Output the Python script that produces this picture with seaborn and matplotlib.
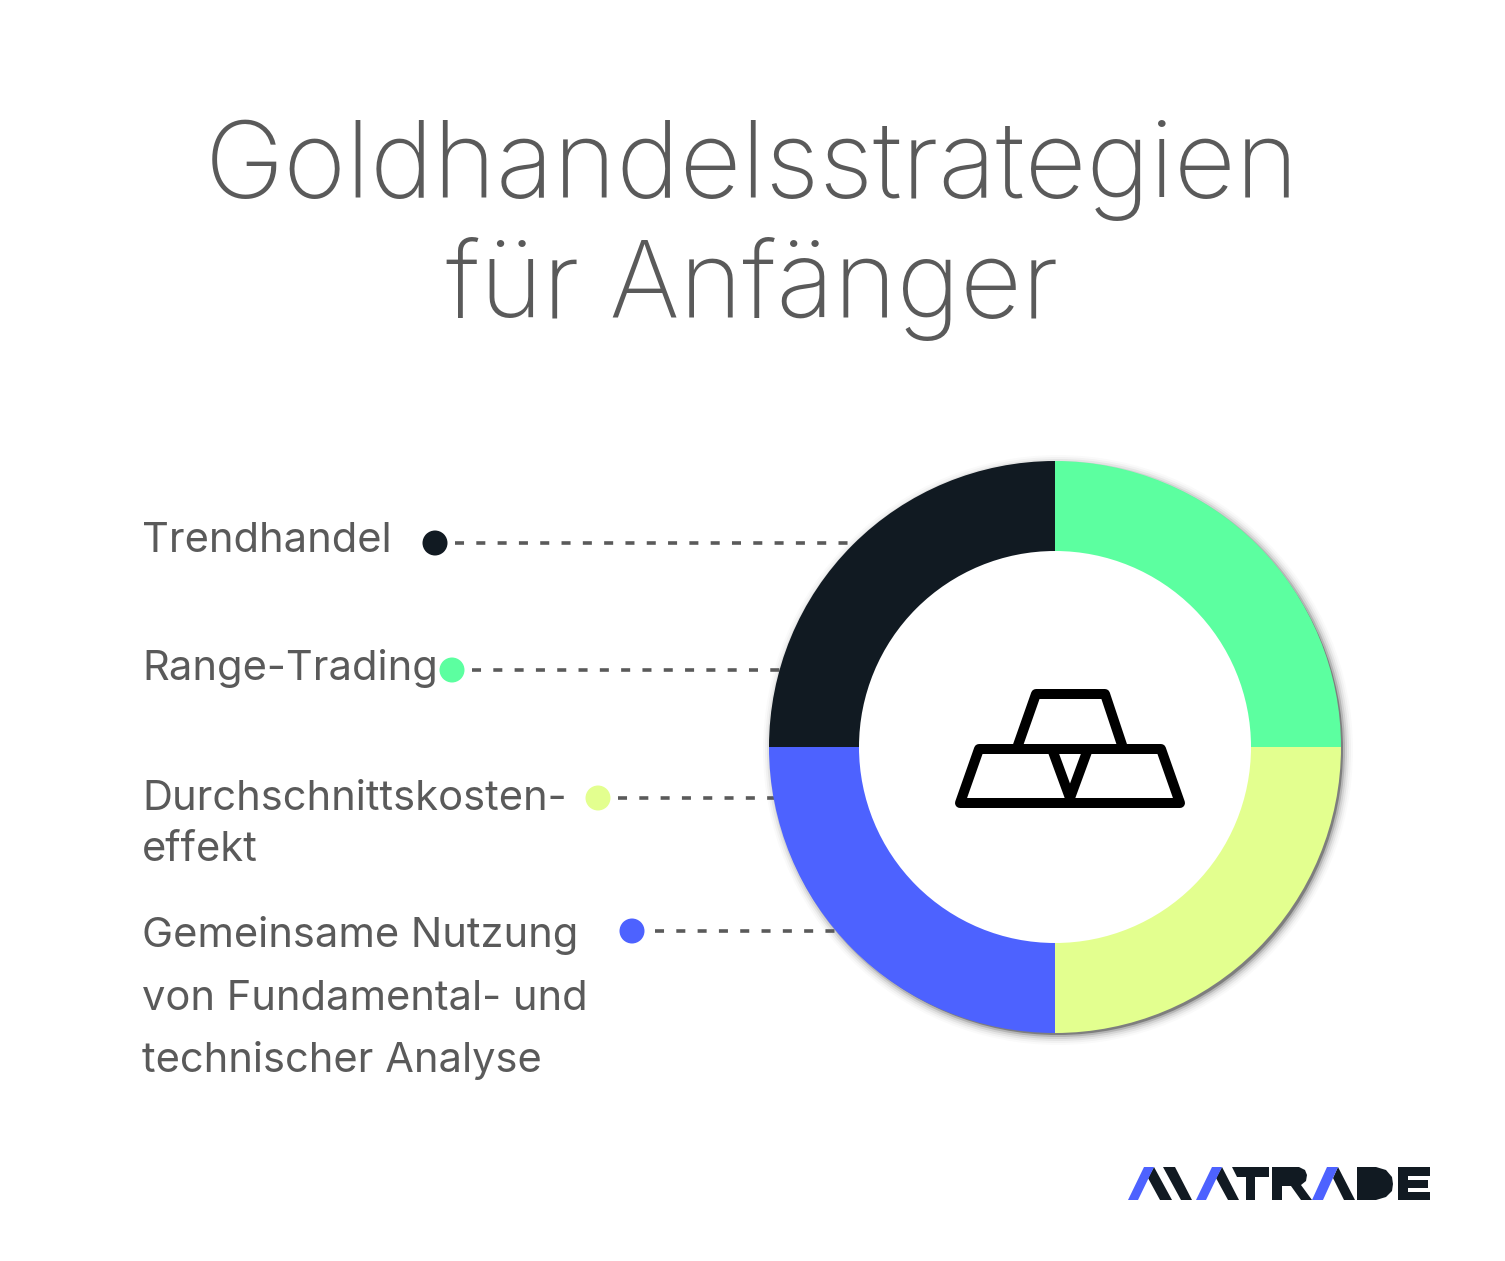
import matplotlib
matplotlib.use("Agg")
import matplotlib.pyplot as plt
from matplotlib.patches import Circle, Polygon, PathPatch
from matplotlib.path import Path
import pandas as pd
import seaborn as sns

# data
categories = ["Trendhandel", "Range-Trading", "Durchschnittskosten-\neffekt",
              "Gemeinsame Nutzung\nvon Fundamental- und\ntechnischer Analyse"]
shares = [25, 25, 25, 25]
colors = ["#111a22", "#5cffa0", "#e3ff8f", "#4d62ff"]
title_lines = ["Goldhandelsstrategien", "für Anfänger"]

# where the legend rows sit (pixels of the 1505x1261 canvas)
dot_x = [435, 452, 598, 632]
dot_y = [543, 670, 798, 931]
line_start = [455, 472, 618, 655]
line_end = [860, 780, 780, 840]
label_y = [552, 680, 810, 947]
label_step = [0, 0, 51, 62.5]

TEXT = "#5a5a5a"
W, H = 1505, 1261
CX, CY, R_OUT, R_IN = 1055, 747, 286, 196

sns.set_theme(style="white")
plt.rcParams["font.family"] = ["Inter", "DejaVu Sans"]

fig = plt.figure(figsize=(W / 100, H / 100), dpi=100, facecolor="white")

# canvas in pixels, under the ring
bg = fig.add_axes([0, 0, 1, 1])
bg.set_xlim(0, W)
bg.set_ylim(H, 0)
bg.axis("off")

# soft shadow to the lower right of the ring
for grow, alpha in [(10, 0.02), (8, 0.03), (6, 0.05), (4, 0.08), (2, 0.14), (0, 0.30)]:
    bg.add_patch(Circle((CX + 3, CY + 3), R_OUT + grow - 1, color="black", alpha=alpha, lw=0))
bg.add_patch(Circle((CX, CY), R_IN + 20, color="white", lw=0))

# title
for line, y in zip(title_lines, [198, 318]):
    bg.text(752, y, line, ha="center", va="baseline", fontsize=77, color=TEXT, fontweight="light")

# labels
for cat, y, step in zip(categories, label_y, label_step):
    for i, part in enumerate(cat.split("\n")):
        bg.text(142, y + i * step, part, ha="left", va="baseline", fontsize=30, color=TEXT)

# leader lines and dots
for x0, x1, y in zip(line_start, line_end, dot_y):
    bg.plot([x0, x1], [y, y], color=TEXT, lw=2.6, linestyle=(0, (2.5, 3.4)), dash_capstyle="butt")
dots = pd.DataFrame({"x": dot_x, "y": dot_y, "cat": categories})
sns.scatterplot(data=dots, x="x", y="y", hue="cat", palette=colors, s=324, linewidth=0,
                legend=False, ax=bg, zorder=3)
bg.set_xlim(0, W)
bg.set_ylim(H, 0)

# gold bars icon
icon = dict(fill=False, edgecolor="black", lw=7.2, joinstyle="round", capstyle="round")
bg.add_patch(Polygon([(1017, 748), (1036, 694), (1105, 694), (1123, 748)], closed=False, **icon))
bg.add_patch(Polygon([(960, 803), (979, 749), (1161, 749), (1180, 803)], closed=True, **icon))
bg.add_patch(Polygon([(1052, 749), (1070, 798), (1088, 749)], closed=False, **icon))

# logo
BLUE, DARK = colors[3], colors[0]
logo_dark = [
    [(1154, 1167), (1172, 1200), (1160, 1200), (1148, 1178)],
    [(1163, 1167), (1175, 1167), (1192, 1200), (1181, 1200)],
    [(1222, 1167), (1239, 1200), (1228, 1200), (1216, 1178)],
    [(1232, 1167), (1269, 1167), (1269, 1177), (1255, 1177), (1255, 1200), (1246, 1200),
     (1246, 1177), (1237, 1177)],
    [(1338, 1167), (1355, 1200), (1344, 1200), (1333, 1178)],
]
logo_blue = [
    [(1128, 1200), (1138, 1200), (1154, 1167), (1144, 1167)],
    [(1196, 1200), (1206, 1200), (1222, 1167), (1212, 1167)],
    [(1312, 1200), (1323, 1200), (1338, 1167), (1327, 1167)],
]
for pts in logo_dark:
    bg.add_patch(Polygon(pts, closed=True, color=DARK, lw=0))
for pts in logo_blue:
    bg.add_patch(Polygon(pts, closed=True, color=BLUE, lw=0))

def compound(outer, inner):
    verts = outer + [outer[0]] + inner + [inner[0]]
    codes = ([Path.MOVETO] + [Path.LINETO] * (len(outer) - 1) + [Path.CLOSEPOLY]
             + [Path.MOVETO] + [Path.LINETO] * (len(inner) - 1) + [Path.CLOSEPOLY])
    return PathPatch(Path(verts, codes), color=DARK, lw=0)

# R
bg.add_patch(compound(
    [(1272, 1167), (1299, 1167), (1305, 1170), (1307, 1175), (1306, 1181), (1301, 1185),
     (1312, 1200), (1301, 1200), (1291, 1186), (1282, 1186), (1282, 1200), (1272, 1200)],
    [(1282, 1176), (1296, 1176), (1297, 1178), (1296, 1179), (1282, 1179)]))
# D
bg.add_patch(compound(
    [(1357, 1167), (1376, 1167), (1386, 1170), (1392, 1177), (1393, 1184), (1392, 1191),
     (1386, 1197), (1376, 1200), (1357, 1200)],
    [(1366, 1176), (1375, 1176), (1381, 1179), (1383, 1184), (1381, 1189), (1375, 1192),
     (1366, 1192)]))
# E
bg.add_patch(Polygon([(1398, 1167), (1430, 1167), (1430, 1176), (1408, 1176), (1408, 1180),
                      (1428, 1180), (1428, 1188), (1408, 1188), (1408, 1192), (1430, 1192),
                      (1430, 1200), (1398, 1200)], closed=True, color=DARK, lw=0))

# ring
ax = fig.add_axes([(CX - R_OUT) / W, 1 - (CY + R_OUT) / H, 2 * R_OUT / W, 2 * R_OUT / H])
ax.patch.set_alpha(0)
ax.pie(shares, colors=colors, startangle=180, counterclock=False, radius=1,
       wedgeprops=dict(width=(R_OUT - R_IN) / R_OUT, linewidth=0))
ax.set_xlim(-1, 1)
ax.set_ylim(-1, 1)

fig.savefig("out.png", dpi=100, facecolor="white")
